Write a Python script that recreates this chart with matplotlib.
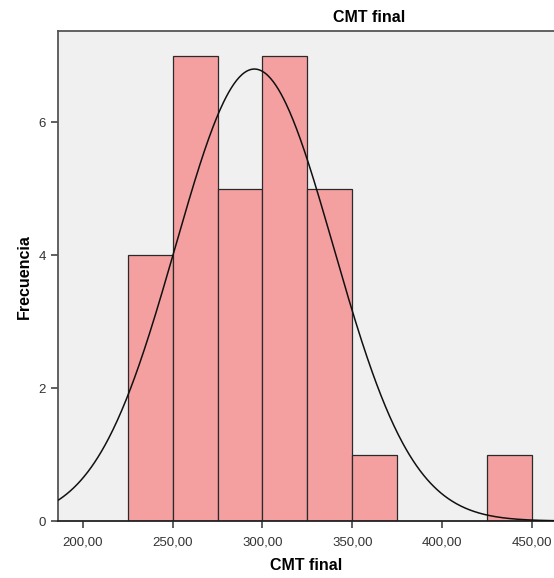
import numpy as np
import matplotlib
matplotlib.use("Agg")
import matplotlib.pyplot as plt

plt.rcParams['font.family'] = ['Liberation Sans', 'DejaVu Sans']

# Data
bin_left = [225, 250, 275, 300, 325, 350, 425]
bin_width = 25
counts = [4, 7, 5, 7, 5, 1, 1]
n_total = 30
fit_mean = 295.5
fit_sd = 44.0
x_ticks = [200, 250, 300, 350, 400, 450]
x_tick_labels = ["200,00", "250,00", "300,00", "350,00", "400,00", "450,00"]
y_ticks = [0, 2, 4, 6]

fig = plt.figure(figsize=(5.54, 5.78), dpi=100)
ax = fig.add_axes([0.104, 0.0986, 0.896, 0.8475])
ax.set_facecolor('#F0F0F0')

ax.bar(bin_left, counts, width=bin_width, align='edge', color='#F5A0A0',
       edgecolor='#2a2a2a', linewidth=0.9, zorder=2)

xs = np.linspace(180, 470, 600)
ys = n_total * bin_width / (fit_sd * np.sqrt(2 * np.pi)) * np.exp(-0.5 * ((xs - fit_mean) / fit_sd) ** 2)
ax.plot(xs, ys, color='#111111', linewidth=1.1, zorder=3)

ax.set_xlim(186.0, 462.2)
ax.set_ylim(0, 7.37)
ax.set_xticks(x_ticks)
ax.set_xticklabels(x_tick_labels)
ax.set_yticks(y_ticks)
ax.tick_params(axis='both', direction='out', length=5, width=1.2, color='#444444',
               labelsize=9.5, labelcolor='#333333')
ax.tick_params(axis='x', pad=6)
for s in ['left', 'bottom', 'top']:
    ax.spines[s].set_color('#555555')
    ax.spines[s].set_linewidth(1.3)
ax.spines['bottom'].set_color('#222222')
ax.spines['right'].set_visible(False)

ax.set_xlabel('CMT final', fontsize=11.5, fontweight='bold', labelpad=7)
ax.set_ylabel('Frecuencia', fontsize=11.5, fontweight='bold', labelpad=5)
fig.text(369 / 554, 1 - 17 / 578, 'CMT final', fontsize=11.5, fontweight='bold',
         ha='center', va='center')

fig.savefig('out.png', dpi=100, facecolor='white')
